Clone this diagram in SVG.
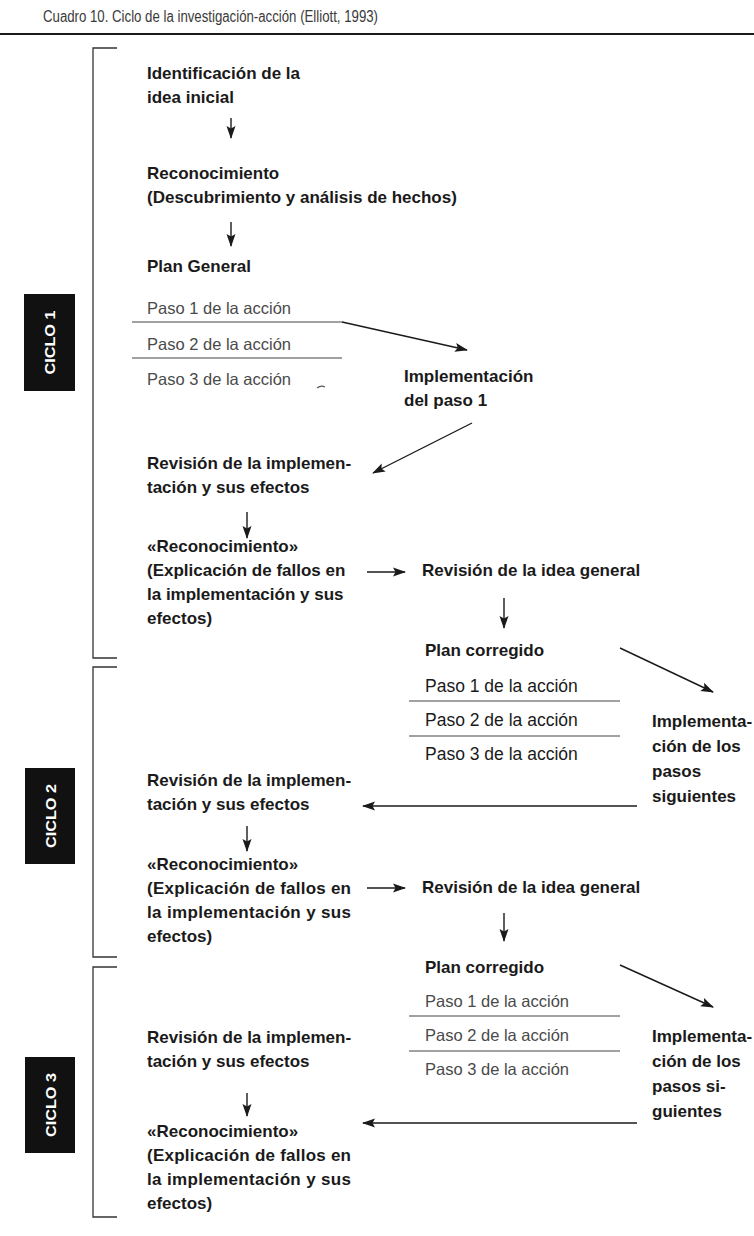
<svg xmlns="http://www.w3.org/2000/svg" width="754" height="1236" viewBox="0 0 754 1236">
<style>
.b{font-family:"Liberation Sans",Arial,sans-serif;font-weight:bold;font-size:17px;fill:#1a1a1a}
.p{font-family:"Liberation Sans",Arial,sans-serif;font-size:16.5px;fill:#4a4a4a}
.p2{font-family:"Liberation Sans",Arial,sans-serif;font-size:17.5px;fill:#1a1a1a}
.t{font-family:"Liberation Sans",Arial,sans-serif;font-size:16px;fill:#3a3a3a}
.c{font-family:"Liberation Sans",Arial,sans-serif;font-weight:bold;font-size:15px;fill:#fff}
.br{fill:none;stroke:#333;stroke-width:1.3}
.sep{stroke:#444;stroke-width:1.2}
.ar{fill:none;stroke:#1a1a1a;stroke-width:1.4;marker-end:url(#ah)}
</style>
<defs>
<marker id="ah" markerWidth="13" markerHeight="10" refX="12" refY="5" orient="auto" markerUnits="userSpaceOnUse">
<path d="M0,0.5 L13,5 L0,9.5 L2.5,5 Z" fill="#1a1a1a"/>
</marker>
</defs>
<rect width="754" height="1236" fill="#fff"/>
<g id="title">
<text class="t" x="43" y="22" textLength="335" lengthAdjust="spacingAndGlyphs">Cuadro 10. Ciclo de la investigación-acción (Elliott, 1993)</text>
<line x1="0" y1="34" x2="754" y2="34" stroke="#1a1a1a" stroke-width="2"/>
</g>
<g id="ciclo1">
<path class="br" d="M117,48 H93 V658 H117"/>
<rect x="24" y="294" width="51" height="97" fill="#111"/>
<text class="c" transform="translate(55,342.5) rotate(-90)" text-anchor="middle" textLength="64" lengthAdjust="spacingAndGlyphs">CICLO 1</text>
</g>
<g id="ciclo2">
<path class="br" d="M117,667 H93 V957 H117"/>
<rect x="25" y="768" width="50" height="96" fill="#111"/>
<text class="c" transform="translate(55.5,816) rotate(-90)" text-anchor="middle" textLength="64" lengthAdjust="spacingAndGlyphs">CICLO 2</text>
</g>
<g id="ciclo3">
<path class="br" d="M117,967 H93 V1217 H117"/>
<rect x="25" y="1057" width="50" height="96" fill="#111"/>
<text class="c" transform="translate(55.5,1105) rotate(-90)" text-anchor="middle" textLength="64" lengthAdjust="spacingAndGlyphs">CICLO 3</text>
</g>
<g id="idea-inicial">
<text class="b" x="147" y="79">Identificación de la</text>
<text class="b" x="147" y="103">idea inicial</text>
</g>
<g id="reconocimiento1">
<text class="b" x="147" y="179">Reconocimiento</text>
<text class="b" x="147" y="203">(Descubrimiento y análisis de hechos)</text>
</g>
<g id="plan-general">
<text class="b" x="147" y="272">Plan General</text>
<text class="p" x="147" y="314">Paso 1 de la acción</text>
<line class="sep" x1="132" y1="322" x2="342" y2="322"/>
<text class="p" x="147" y="350">Paso 2 de la acción</text>
<line class="sep" x1="132" y1="358" x2="342" y2="358"/>
<text class="p" x="147" y="385">Paso 3 de la acción</text>
<path d="M317,388 q4,-3 8,-1" fill="none" stroke="#555" stroke-width="1.2"/>
</g>
<g id="implementacion1">
<text class="b" x="404" y="382">Implementación</text>
<text class="b" x="404" y="406">del paso 1</text>
</g>
<g id="revision1">
<text class="b" x="147" y="469">Revisión de la implemen-</text>
<text class="b" x="147" y="493">tación y sus efectos</text>
</g>
<g id="reconocimiento-c1">
<text class="b" x="147" y="552">«Reconocimiento»</text>
<text class="b" x="147" y="576">(Explicación de fallos en</text>
<text class="b" x="147" y="600">la implementación y sus</text>
<text class="b" x="147" y="624">efectos)</text>
</g>
<g id="revision-idea1">
<text class="b" x="422" y="576">Revisión de la idea general</text>
</g>
<g id="plan-corregido1">
<text class="b" x="425" y="656">Plan corregido</text>
<text class="p2" x="425" y="692">Paso 1 de la acción</text>
<line class="sep" x1="409" y1="701" x2="620" y2="701"/>
<text class="p2" x="425" y="726">Paso 2 de la acción</text>
<line class="sep" x1="409" y1="736" x2="620" y2="736"/>
<text class="p2" x="425" y="760">Paso 3 de la acción</text>
</g>
<g id="implementacion2">
<text class="b" x="652" y="727">Implementa-</text>
<text class="b" x="652" y="752">ción de los</text>
<text class="b" x="652" y="777">pasos</text>
<text class="b" x="652" y="802">siguientes</text>
</g>
<g id="revision2">
<text class="b" x="147" y="786">Revisión de la implemen-</text>
<text class="b" x="147" y="810">tación y sus efectos</text>
</g>
<g id="reconocimiento-c2">
<text class="b" x="147" y="870">«Reconocimiento»</text>
<text class="b" x="147" y="894" textLength="204" lengthAdjust="spacing">(Explicación de fallos en</text>
<text class="b" x="147" y="918" textLength="204" lengthAdjust="spacing">la implementación y sus</text>
<text class="b" x="147" y="942">efectos)</text>
</g>
<g id="revision-idea2">
<text class="b" x="422" y="893">Revisión de la idea general</text>
</g>
<g id="plan-corregido2">
<text class="b" x="425" y="973">Plan corregido</text>
<text class="p" x="425" y="1007">Paso 1 de la acción</text>
<line class="sep" x1="409" y1="1016" x2="620" y2="1016"/>
<text class="p" x="425" y="1041">Paso 2 de la acción</text>
<line class="sep" x1="409" y1="1051" x2="620" y2="1051"/>
<text class="p" x="425" y="1075">Paso 3 de la acción</text>
</g>
<g id="implementacion3">
<text class="b" x="652" y="1042">Implementa-</text>
<text class="b" x="652" y="1067">ción de los</text>
<text class="b" x="652" y="1092">pasos si-</text>
<text class="b" x="652" y="1117">guientes</text>
</g>
<g id="revision3">
<text class="b" x="147" y="1043">Revisión de la implemen-</text>
<text class="b" x="147" y="1067">tación y sus efectos</text>
</g>
<g id="reconocimiento-c3">
<text class="b" x="147" y="1137">«Reconocimiento»</text>
<text class="b" x="147" y="1161" textLength="204" lengthAdjust="spacing">(Explicación de fallos en</text>
<text class="b" x="147" y="1185" textLength="204" lengthAdjust="spacing">la implementación y sus</text>
<text class="b" x="147" y="1209">efectos)</text>
</g>
<g id="connectors">
<line class="ar" x1="231" y1="118" x2="231" y2="138"/>
<line class="ar" x1="231" y1="222" x2="231" y2="246"/>
<line class="ar" x1="342" y1="322" x2="467" y2="350"/>
<line class="ar" x1="472" y1="423" x2="373" y2="473"/>
<line class="ar" x1="247" y1="512" x2="247" y2="538"/>
<line class="ar" x1="367" y1="572" x2="405" y2="572"/>
<line class="ar" x1="504" y1="598" x2="504" y2="628"/>
<line class="ar" x1="620" y1="648" x2="713" y2="692"/>
<line class="ar" x1="637" y1="806" x2="363" y2="806"/>
<line class="ar" x1="247" y1="826" x2="247" y2="851"/>
<line class="ar" x1="367" y1="888" x2="405" y2="888"/>
<line class="ar" x1="504" y1="913" x2="504" y2="941"/>
<line class="ar" x1="620" y1="965" x2="713" y2="1007"/>
<line class="ar" x1="637" y1="1123" x2="363" y2="1123"/>
<line class="ar" x1="247" y1="1093" x2="247" y2="1116"/>
</g>
</svg>
